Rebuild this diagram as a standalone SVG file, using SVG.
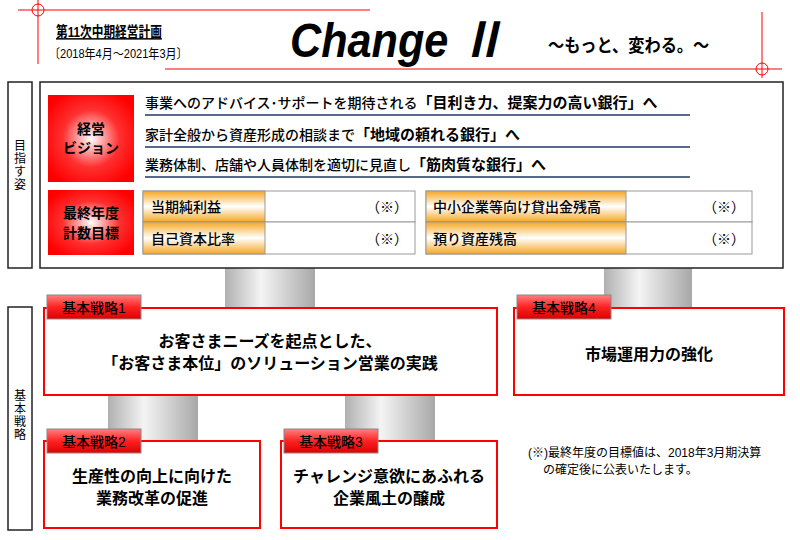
<svg xmlns="http://www.w3.org/2000/svg" width="800" height="540" viewBox="0 0 800 540">
<defs>
<radialGradient id="rg" cx="50%" cy="50%" r="60%"><stop offset="0" stop-color="#fff"/><stop offset="0.55" stop-color="#ff3030"/><stop offset="1" stop-color="#f00"/></radialGradient>
<linearGradient id="og" x1="0" y1="0" x2="0" y2="1"><stop offset="0" stop-color="#f5a623"/><stop offset="0.5" stop-color="#fff"/><stop offset="1" stop-color="#f5a623"/></linearGradient>
<linearGradient id="gg" x1="0" y1="0" x2="1" y2="0"><stop offset="0" stop-color="#b0b0b0"/><stop offset="0.4" stop-color="#f4f4f4"/><stop offset="1" stop-color="#a8a8a8"/></linearGradient>
<linearGradient id="tg" x1="0" y1="0" x2="0" y2="1"><stop offset="0" stop-color="#ff8080"/><stop offset="0.5" stop-color="#f22"/><stop offset="1" stop-color="#d00"/></linearGradient>
</defs>
<style>
text{font-family:"Liberation Sans","Noto Sans CJK JP",sans-serif;fill:#000}
.b{font-weight:bold}
.m{font-weight:500}
.rl{stroke:#f00;stroke-width:1;fill:none}
.bx{fill:#fff;stroke:#222;stroke-width:1.5}
.sb{fill:#fff;stroke:#f00;stroke-width:2}
.tab{fill:url(#tg);stroke:#888;stroke-width:1}
.ul{stroke:#1f3864;stroke-width:1.5}
.cell{fill:#fff;stroke:#999;stroke-width:1}
.oc{fill:url(#og);stroke:#999;stroke-width:1}
.pil{fill:url(#gg)}
</style>
<g id="header">
<line class="rl" x1="18" y1="10" x2="370" y2="10"/><line class="rl" x1="38" y1="0" x2="38" y2="64"/><circle class="rl" cx="38" cy="10" r="6"/>
<line class="rl" x1="165" y1="69" x2="782" y2="69"/><line class="rl" x1="762" y1="12" x2="762" y2="78"/><circle class="rl" cx="762" cy="69" r="6"/>
<text transform="translate(56,37) scale(0.78,1)" font-size="15" class="b" text-decoration="underline">第11次中期経営計画</text>
<text transform="translate(49,58) scale(0.85,1)" font-size="13">〔2018年4月～2021年3月〕</text>
<text transform="translate(290,57) scale(0.9,1)" font-size="48" class="b" font-style="italic">Change Ⅱ</text>
<text transform="translate(548,52) scale(0.9,1)" font-size="18" class="b">～もっと、変わる。～</text>
</g>
<g id="pillars">
<rect class="pil" x="225" y="268" width="90" height="42"/>
<rect class="pil" x="604" y="268" width="88" height="42"/>
<rect class="pil" x="108" y="395" width="90" height="45"/>
<rect class="pil" x="345" y="395" width="90" height="45"/>
</g>
<g id="mezasu">
<rect class="bx" x="8" y="82" width="24" height="186"/>
<text x="20" y="150" font-size="12" text-anchor="middle"><tspan x="20">目</tspan><tspan x="20" dy="13">指</tspan><tspan x="20" dy="13">す</tspan><tspan x="20" dy="13">姿</tspan></text>
<rect class="bx" x="40" y="82" width="743" height="186"/>
</g>
<g id="vision">
<rect x="48" y="95" width="86" height="87" fill="url(#rg)"/>
<text x="91" y="134" font-size="14" class="b" text-anchor="middle">経営</text>
<text x="91" y="153" font-size="14" class="b" text-anchor="middle">ビジョン</text>
<text x="145" y="108" font-size="14" class="m">事業へのアドバイス･サポートを期待される<tspan class="b" font-size="15">「目利き力、提案力の高い銀行」へ</tspan></text>
<line class="ul" x1="145" y1="115" x2="690" y2="115"/>
<text x="145" y="140" font-size="14" class="m">家計全般から資産形成の相談まで<tspan class="b" font-size="15">「地域の頼れる銀行」へ</tspan></text>
<line class="ul" x1="145" y1="147" x2="690" y2="147"/>
<text x="145" y="170" font-size="14" class="m">業務体制、店舗や人員体制を適切に見直し<tspan class="b" font-size="15">「筋肉質な銀行」へ</tspan></text>
<line class="ul" x1="145" y1="177" x2="690" y2="177"/>
</g>
<g id="targets">
<rect x="48" y="190" width="86" height="65" fill="url(#rg)"/>
<text x="91" y="218" font-size="14" class="b" text-anchor="middle">最終年度</text>
<text x="91" y="238" font-size="14" class="b" text-anchor="middle">計数目標</text>
<rect class="cell" x="143" y="191" width="272" height="31"/><rect class="oc" x="143" y="191" width="122" height="31"/>
<rect class="cell" x="143" y="222" width="272" height="32"/><rect class="oc" x="143" y="222" width="122" height="32"/>
<text x="151" y="212" font-size="14" class="m">当期純利益</text><text x="408" y="212" font-size="14" text-anchor="end">（※）</text>
<text x="151" y="244" font-size="14" class="m">自己資本比率</text><text x="408" y="244" font-size="14" text-anchor="end">（※）</text>
<rect class="cell" x="426" y="191" width="326" height="31"/><rect class="oc" x="426" y="191" width="200" height="31"/>
<rect class="cell" x="426" y="222" width="326" height="32"/><rect class="oc" x="426" y="222" width="200" height="32"/>
<text x="433" y="212" font-size="14" class="m">中小企業等向け貸出金残高</text><text x="745" y="212" font-size="14" text-anchor="end">（※）</text>
<text x="433" y="244" font-size="14" class="m">預り資産残高</text><text x="745" y="244" font-size="14" text-anchor="end">（※）</text>
</g>
<g id="kihon">
<rect class="bx" x="8" y="307" width="24" height="223"/>
<text x="20" y="400" font-size="12" text-anchor="middle"><tspan x="20">基</tspan><tspan x="20" dy="13">本</tspan><tspan x="20" dy="13">戦</tspan><tspan x="20" dy="13">略</tspan></text>
</g>
<g id="s1">
<rect class="sb" x="44" y="308" width="453" height="87"/>
<rect class="tab" x="47" y="295" width="94" height="24"/>
<text x="94" y="313" font-size="14" class="m" text-anchor="middle">基本戦略1</text>
<text x="270" y="347" font-size="16" class="b" text-anchor="middle">お客さまニーズを起点とした、</text>
<text x="270" y="369" font-size="16" class="b" text-anchor="middle">「お客さま本位」のソリューション営業の実践</text>
</g>
<g id="s4">
<rect class="sb" x="514" y="308" width="270" height="87"/>
<rect class="tab" x="517" y="295" width="94" height="24"/>
<text x="564" y="313" font-size="14" class="m" text-anchor="middle">基本戦略4</text>
<text x="649" y="360" font-size="16" class="b" text-anchor="middle">市場運用力の強化</text>
</g>
<g id="s2">
<rect class="sb" x="44" y="441" width="216" height="87"/>
<rect class="tab" x="47" y="429" width="94" height="24"/>
<text x="94" y="447" font-size="14" class="m" text-anchor="middle">基本戦略2</text>
<text x="152" y="482" font-size="16" class="b" text-anchor="middle">生産性の向上に向けた</text>
<text x="152" y="504" font-size="16" class="b" text-anchor="middle">業務改革の促進</text>
</g>
<g id="s3">
<rect class="sb" x="281" y="441" width="216" height="87"/>
<rect class="tab" x="284" y="429" width="94" height="24"/>
<text x="331" y="447" font-size="14" class="m" text-anchor="middle">基本戦略3</text>
<text x="389" y="482" font-size="16" class="b" text-anchor="middle">チャレンジ意欲にあふれる</text>
<text x="389" y="504" font-size="16" class="b" text-anchor="middle">企業風土の醸成</text>
</g>
<g id="note">
<text x="528" y="457" font-size="12" font-family="Liberation Serif,Noto Sans CJK JP,serif">(※)最終年度の目標値は、2018年3月期決算</text>
<text x="543" y="474" font-size="12" font-family="Liberation Serif,Noto Sans CJK JP,serif">の確定後に公表いたします。</text>
</g>
</svg>
